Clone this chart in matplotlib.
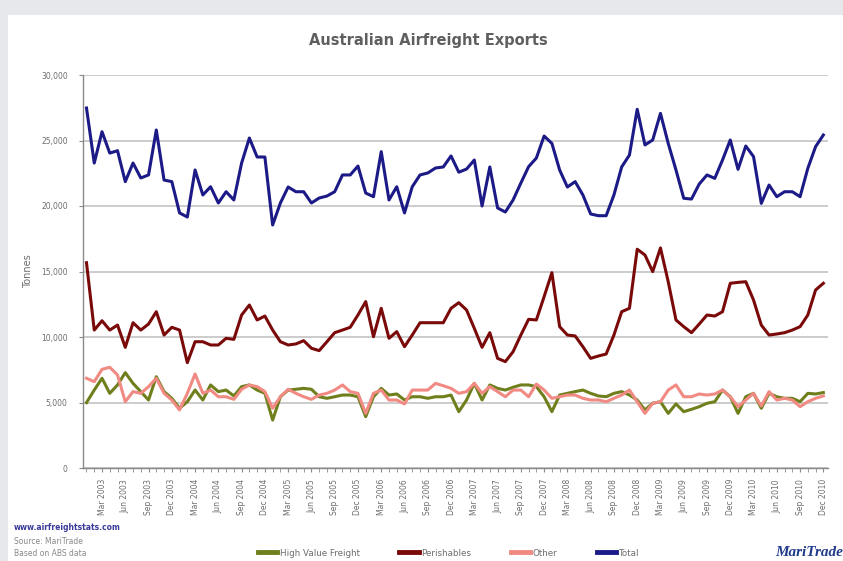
import matplotlib.pyplot as plt
from matplotlib.patches import Rectangle
from matplotlib.ticker import FuncFormatter

# monthly tonnes, Jan 2003 - Dec 2010
total = [27480, 23280, 25670, 24040, 24220, 21860, 23280, 22140, 22370, 25800, 21980, 21860,
         19470, 19160, 22750, 20840, 21470, 20230, 21090, 20460, 23280, 25190, 23740, 23740,
         18550, 20230, 21450, 21090, 21090, 20230, 20610, 20760, 21090, 22370, 22370, 23050,
         20990, 20710, 24150, 20460, 21470, 19470, 21470, 22370, 22520, 22900, 22980, 23820,
         22580, 22820, 23510, 20000, 22980, 19850, 19540, 20460, 21750, 23000, 23660, 25340,
         24780, 22750, 21450, 21860, 20840, 19390, 19260, 19260, 20840, 22980, 23890, 27380,
         24660, 25040, 27070, 24780, 22750, 20590, 20530, 21680, 22370, 22110, 23510, 25040,
         22800, 24580, 23770, 20200, 21600, 20710, 21090, 21090, 20710, 22880, 24530, 25420]

perishables = [15670, 10530, 11240, 10530, 10910, 9210, 11090, 10530, 10990, 11930, 10150, 10740,
               10530, 8040, 9640, 9640, 9390, 9390, 9900, 9820, 11680, 12440, 11300, 11600,
               10530, 9640, 9390, 9470, 9720, 9140, 8960, 9640, 10330, 10530, 10740, 11680,
               12700, 10020, 12190, 9900, 10410, 9260, 10150, 11090, 11090, 11090, 11090, 12190,
               12620, 12060, 10660, 9210, 10330, 8370, 8120, 8880, 10150, 11350, 11300, 13080,
               14910, 10790, 10150, 10080, 9260, 8370, 8550, 8700, 10150, 11930, 12190, 16700,
               16260, 14990, 16800, 14220, 11300, 10790, 10330, 10990, 11680, 11600, 11930, 14100,
               14170, 14220, 12820, 10910, 10150, 10230, 10330, 10530, 10790, 11680, 13590, 14100]

other = [6850, 6590, 7530, 7690, 7100, 5060, 5830, 5700, 6210, 6850, 5700, 5190,
         4430, 5700, 7180, 5700, 5950, 5440, 5440, 5240, 6010, 6340, 6210, 5830,
         4560, 5440, 6010, 5700, 5440, 5240, 5570, 5700, 5950, 6340, 5830, 5700,
         4170, 5700, 5950, 5190, 5190, 4890, 5950, 5950, 5950, 6460, 6280, 6080,
         5700, 5830, 6460, 5700, 6210, 5830, 5440, 5950, 5950, 5440, 6410, 5950,
         5320, 5440, 5570, 5570, 5320, 5190, 5190, 5060, 5320, 5570, 5950, 5060,
         4170, 4940, 5060, 5950, 6340, 5440, 5440, 5650, 5570, 5650, 5950, 5440,
         4680, 5190, 5700, 4730, 5830, 5190, 5320, 5190, 4680, 5060, 5320, 5500]

high_value = [4990, 5950, 6850, 5700, 6340, 7280, 6460, 5830, 5190, 6970, 5830, 5320,
              4560, 5060, 5950, 5190, 6340, 5830, 5950, 5500, 6210, 6340, 5950, 5700,
              3660, 5440, 5950, 6010, 6080, 6010, 5440, 5320, 5440, 5570, 5570, 5440,
              3920, 5440, 6080, 5570, 5650, 5190, 5440, 5440, 5320, 5440, 5440, 5570,
              4300, 5190, 6460, 5190, 6340, 6080, 5950, 6160, 6340, 6340, 6210, 5440,
              4300, 5570, 5700, 5830, 5950, 5700, 5500, 5440, 5700, 5830, 5570, 5190,
              4430, 4940, 5060, 4170, 4890, 4300, 4480, 4680, 4940, 5060, 5950, 5440,
              4170, 5440, 5700, 4560, 5700, 5440, 5320, 5320, 5060, 5700, 5650, 5760]

quarter_months = ["Mar", "Jun", "Sep", "Dec"]
years = list(range(2003, 2011))
tick_labels = [f"{m} {y}" for y in years for m in quarter_months]

grey_txt = "#6d6d6d"

fig = plt.figure(figsize=(8.43, 5.61), dpi=100)
fig.patch.set_facecolor("#e6e8ec")
fig.patches.append(Rectangle((8 / 843, 0), 1, 1 - 15 / 561, transform=fig.transFigure,
                             facecolor="white", edgecolor="none", zorder=-10))

ax = fig.add_axes([83 / 843, 1 - 468 / 561, (828 - 83) / 843, (468 - 75) / 561])
ax.set_facecolor("white")

x = list(range(len(total)))
ax.plot(x, high_value, color="#6e7f1c", lw=2.2, label="High Value Freight")
ax.plot(x, perishables, color="#7a0a0a", lw=2.2, label="Perishables")
ax.plot(x, other, color="#f08a82", lw=2.2, label="Other")
ax.plot(x, total, color="#1c1a86", lw=2.2, label="Total")

ax.set_xlim(-0.45, 95.6)
ax.set_ylim(0, 30000)
ax.set_yticks(range(0, 30001, 5000))
ax.yaxis.set_major_formatter(FuncFormatter(lambda v, p: f"{int(v):,}"))
ax.grid(axis="y", color="#c4c4c4", lw=1.2)
ax.set_axisbelow(True)

ax.set_xticks(range(2, 96, 3))
ax.set_xticklabels(tick_labels, rotation=90)
ax.set_xticks(range(0, 96), minor=True)
ax.tick_params(axis="x", which="both", direction="out", length=3, color="#8a8a8a",
               labelsize=5.5, labelcolor=grey_txt, pad=5)
ax.tick_params(axis="y", length=3, color="#8a8a8a", labelsize=5.5, labelcolor=grey_txt, pad=8)

for side in ["top", "right"]:
    ax.spines[side].set_visible(False)
for side in ["left", "bottom"]:
    ax.spines[side].set_color("#8a8a8a")
    ax.spines[side].set_linewidth(1.0)

ax.set_ylabel("Tonnes", fontsize=7, color=grey_txt, labelpad=6)

fig.text(0.508, 1 - 40 / 561, "Australian Airfreight Exports", ha="center", va="center",
         fontsize=10.5, fontweight="bold", color="#5f5f5f")

leg = fig.legend(loc="center", bbox_to_anchor=(0.532, 1 - 553 / 561), ncol=4, frameon=False,
                 fontsize=6.3, handlelength=2.2, handletextpad=0.3, columnspacing=4.5,
                 labelcolor=grey_txt)
for line in leg.get_lines():
    line.set_linewidth(3.5)

fig.text(14 / 843, 1 - 527 / 561, "www.airfreightstats.com", fontsize=5.5, color="#3a3a9a",
         va="center", fontweight="bold")
fig.text(14 / 843, 1 - 541 / 561, "Source: MariTrade", fontsize=5.5, color="#888888", va="center")
fig.text(14 / 843, 1 - 553 / 561, "Based on ABS data", fontsize=5.5, color="#888888", va="center")
fig.text(775 / 843, 1 - 553 / 561, "MariTrade", fontsize=11, family="Liberation Serif",
         fontweight="bold", style="italic", color="#1f3a8a", va="center")

fig.savefig("out.png", dpi=100, facecolor=fig.get_facecolor())
